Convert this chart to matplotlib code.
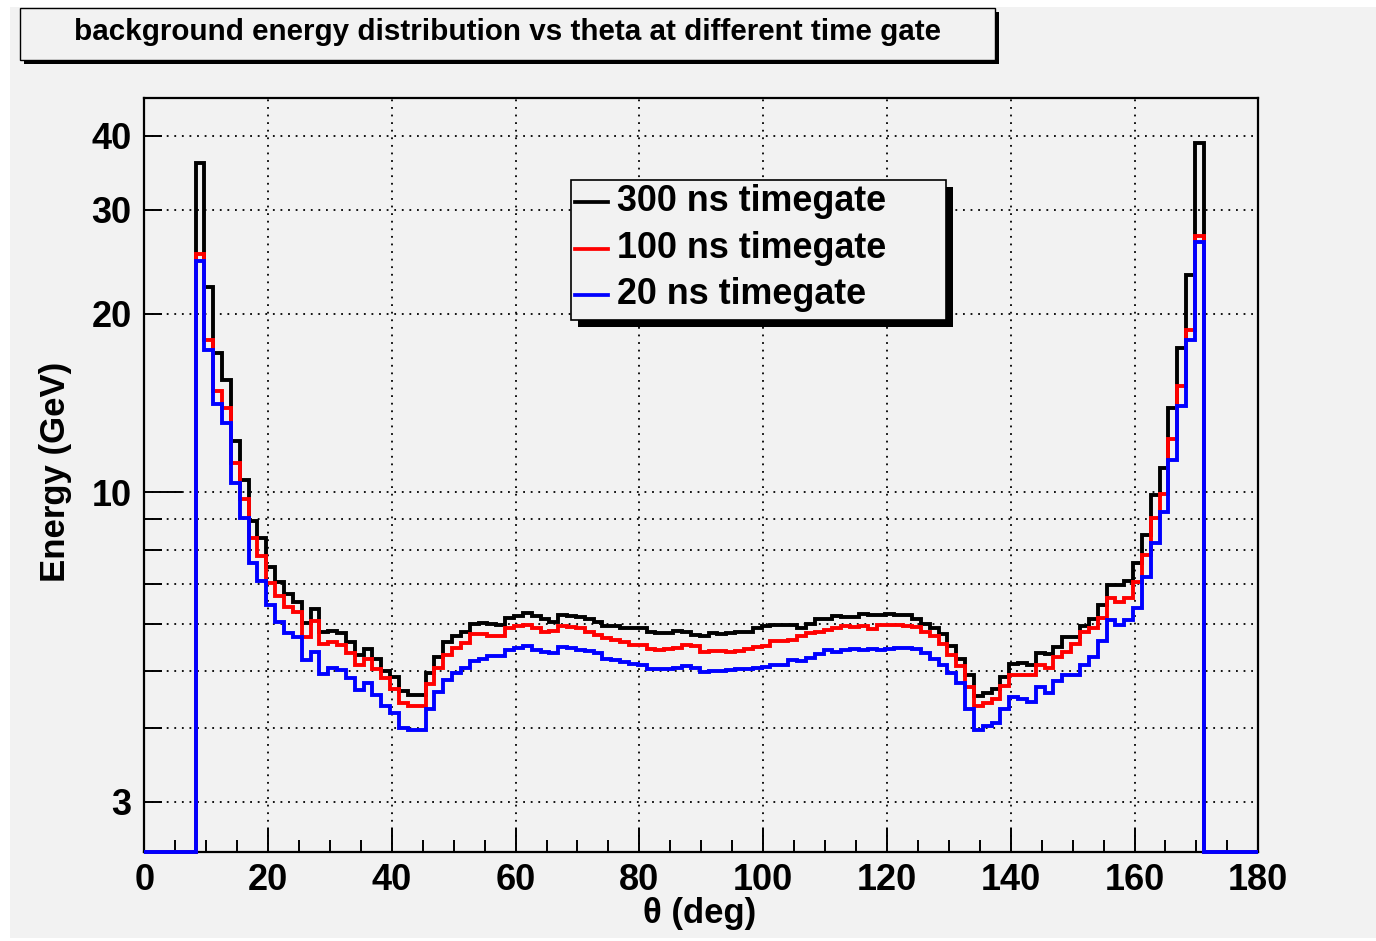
import numpy as np
import matplotlib
matplotlib.use("Agg")
import matplotlib.pyplot as plt
from matplotlib.patches import Rectangle
from matplotlib.lines import Line2D
from matplotlib.ticker import FixedLocator, FuncFormatter

# ---------------- data ----------------
theta_lo, theta_hi = 8.3, 171.2      # edges of the filled theta bins (deg)

e300 = [36.0, 22.2, 17.2, 15.5, 12.2, 10.5, 8.95, 8.36, 7.49, 7.06,
        6.73, 6.54, 6.01, 6.34, 5.80, 5.84, 5.79, 5.58, 5.32, 5.44,
        5.24, 5.00, 4.88, 4.62, 4.54, 4.54, 4.96, 5.28, 5.59, 5.73,
        5.82, 5.99, 6.02, 6.00, 5.97, 6.13, 6.18, 6.25, 6.17, 6.10,
        6.05, 6.20, 6.18, 6.15, 6.10, 6.05, 5.95, 5.94, 5.89, 5.89,
        5.90, 5.82, 5.79, 5.79, 5.84, 5.80, 5.74, 5.71, 5.79, 5.76,
        5.78, 5.80, 5.82, 5.89, 5.95, 5.96, 5.96, 5.97, 5.89, 6.00,
        6.10, 6.10, 6.17, 6.15, 6.15, 6.23, 6.21, 6.21, 6.23, 6.20,
        6.20, 6.10, 6.00, 5.90, 5.76, 5.51, 5.24, 4.91, 4.53, 4.58,
        4.65, 4.88, 5.12, 5.15, 5.10, 5.35, 5.33, 5.49, 5.70, 5.69,
        5.95, 6.10, 6.46, 6.97, 6.97, 7.07, 7.59, 8.47, 9.90, 11.0,
        13.9, 17.5, 23.3, 38.9]

e100 = [25.2, 18.1, 14.8, 13.9, 11.2, 9.75, 8.36, 7.80, 7.04, 6.69,
        6.41, 6.27, 5.70, 6.07, 5.55, 5.58, 5.52, 5.36, 5.10, 5.24,
        5.04, 4.85, 4.65, 4.40, 4.36, 4.36, 4.74, 5.05, 5.32, 5.46,
        5.56, 5.76, 5.76, 5.71, 5.72, 5.89, 5.95, 5.97, 5.90, 5.82,
        5.84, 5.95, 5.93, 5.89, 5.82, 5.74, 5.67, 5.64, 5.58, 5.53,
        5.52, 5.44, 5.41, 5.43, 5.46, 5.53, 5.50, 5.38, 5.40, 5.40,
        5.38, 5.40, 5.44, 5.49, 5.51, 5.60, 5.60, 5.64, 5.71, 5.79,
        5.82, 5.86, 5.90, 5.95, 5.93, 5.95, 5.88, 5.97, 5.96, 5.96,
        5.95, 5.93, 5.82, 5.71, 5.55, 5.32, 5.08, 4.69, 4.35, 4.40,
        4.47, 4.71, 4.91, 4.91, 4.91, 5.10, 5.05, 5.28, 5.38, 5.55,
        5.82, 5.90, 6.13, 6.62, 6.54, 6.62, 7.06, 7.84, 9.04, 9.93,
        12.3, 15.1, 18.8, 27.1]

e20 = [24.6, 17.4, 14.1, 13.1, 10.35, 9.04, 7.59, 7.08, 6.46, 6.03,
       5.79, 5.69, 5.22, 5.38, 4.94, 5.06, 5.02, 4.86, 4.63, 4.76,
       4.54, 4.35, 4.24, 4.00, 3.97, 3.97, 4.31, 4.60, 4.82, 4.96,
       5.06, 5.18, 5.24, 5.29, 5.30, 5.41, 5.45, 5.50, 5.42, 5.38,
       5.36, 5.47, 5.45, 5.42, 5.40, 5.36, 5.23, 5.22, 5.16, 5.13,
       5.10, 5.04, 5.03, 5.03, 5.06, 5.08, 5.05, 4.98, 5.00, 5.00,
       5.02, 5.04, 5.04, 5.05, 5.07, 5.10, 5.10, 5.20, 5.18, 5.26,
       5.34, 5.41, 5.38, 5.41, 5.44, 5.42, 5.44, 5.42, 5.44, 5.45,
       5.45, 5.43, 5.35, 5.24, 5.10, 4.95, 4.76, 4.31, 3.97, 4.03,
       4.08, 4.31, 4.51, 4.47, 4.43, 4.69, 4.58, 4.80, 4.91, 4.91,
       5.10, 5.27, 5.60, 6.08, 5.97, 6.08, 6.38, 7.20, 8.20, 9.25,
       11.35, 14.0, 18.1, 26.5]

series_labels = ["300 ns timegate", "100 ns timegate", "20 ns timegate"]
title_text = "background energy distribution vs theta at different time gate"
xtick_vals = [0, 20, 40, 60, 80, 100, 120, 140, 160, 180]
ytick_labeled = [3, 10, 20, 30, 40]

# ---------------- style ----------------
FONT = ["Liberation Sans", "DejaVu Sans"]
plt.rcParams["font.family"] = FONT
plt.rcParams["font.weight"] = "bold"
BG = "#f2f2f2"
colors = ["black", "red", "blue"]
W, H = 1376, 941

def fx(x):
    return x / W

def fy(y):
    return 1 - y / H

fig = plt.figure(figsize=(W / 100, H / 100), dpi=100)
fig.patch.set_facecolor("white")
fig.add_artist(Rectangle((fx(10), fy(938)), fx(W - 10), fy(7) - fy(938),
                         transform=fig.transFigure, facecolor=BG,
                         edgecolor="none", zorder=0))

ax_l, ax_r, ax_t, ax_b = 144.2, 1258.3, 98, 852
ax = fig.add_axes([fx(ax_l), fy(ax_b), fx(ax_r - ax_l), fy(ax_t) - fy(ax_b)])
ax.set_facecolor(BG)
ax.set_yscale("log")
ybot, ytop = 2.47, 46.3
ax.set_ylim(ybot, ytop)
ax.set_xlim(0, 180)

# histograms
n = len(e300)
edges = np.linspace(theta_lo, theta_hi, n + 1)
full_edges = np.concatenate([[0.0], edges, [180.0]])
for vals, col in zip([e300, e100, e20], colors):
    v = np.concatenate([[ybot], np.asarray(vals, float), [ybot]])
    ax.stairs(v, full_edges, baseline=None, color=col, lw=2.8,
              joinstyle="miter", clip_on=False, zorder=4)

# ticks
ax.xaxis.set_major_locator(FixedLocator(xtick_vals))
ax.xaxis.set_minor_locator(FixedLocator([v for v in range(0, 181, 5) if v % 20]))
ax.yaxis.set_major_locator(FixedLocator([10]))
ax.yaxis.set_minor_locator(FixedLocator([3, 4, 5, 6, 7, 8, 9, 20, 30, 40]))
ax.yaxis.set_major_formatter(FuncFormatter(lambda v, p: "%g" % v))
ax.yaxis.set_minor_formatter(FuncFormatter(
    lambda v, p: ("%g" % v) if round(v) in ytick_labeled else ""))
ax.xaxis.set_major_formatter(FuncFormatter(lambda v, p: "%g" % v))
ax.tick_params(axis="both", which="both", direction="in", color="black",
               width=1.4, labelsize=26)
ax.tick_params(axis="y", which="major", length=27, pad=9)
ax.tick_params(axis="y", which="minor", length=13, pad=9)
ax.tick_params(axis="x", which="major", length=17, pad=8)
ax.tick_params(axis="x", which="minor", length=8.5)
for lab in ax.get_xticklabels() + ax.get_yticklabels(which="both"):
    lab.set_fontweight("bold")

# grid
ax.set_axisbelow(True)
ax.grid(True, axis="x", which="major", color="black", lw=1.3, ls=(0, (1, 3.2)))
ax.grid(True, axis="y", which="both", color="black", lw=1.3, ls=(0, (1, 3.2)))
for s in ax.spines.values():
    s.set_linewidth(1.6)
    s.set_zorder(3)

# axis labels
fig.text(fx(700), fy(913), "\u03b8 (deg)", ha="center", va="center",
         fontsize=25, fontweight="bold")
fig.text(fx(55), fy(472), "Energy (GeV)", ha="center", va="center",
         rotation=90, fontsize=25, fontweight="bold")

# title box
sh = 4
fig.add_artist(Rectangle((fx(20 + sh), fy(60 + sh)), fx(975), fy(8) - fy(60),
                         transform=fig.transFigure, facecolor="black",
                         edgecolor="none", zorder=5))
fig.add_artist(Rectangle((fx(20), fy(60)), fx(975), fy(8) - fy(60),
                         transform=fig.transFigure, facecolor=BG,
                         edgecolor="black", lw=1.0, zorder=6))
fig.text(fx(507), fy(32), title_text, ha="center", va="center",
         fontsize=21.3, fontweight="bold", zorder=7)

# legend box
lx0, ly0, lx1, ly1 = 571, 180, 946, 320
sh = 7
fig.add_artist(Rectangle((fx(lx0 + sh), fy(ly1 + sh)), fx(lx1 - lx0),
                         fy(ly0) - fy(ly1), transform=fig.transFigure,
                         facecolor="black", edgecolor="none", zorder=8))
fig.add_artist(Rectangle((fx(lx0), fy(ly1)), fx(lx1 - lx0), fy(ly0) - fy(ly1),
                         transform=fig.transFigure, facecolor=BG,
                         edgecolor="black", lw=1.2, zorder=9))
for lab, col, yy in zip(series_labels, colors, [201.7, 249, 295]):
    fig.add_artist(Line2D([fx(575), fx(608)], [fy(yy), fy(yy)],
                          transform=fig.transFigure, color=col, lw=2.7,
                          zorder=10))
    fig.text(fx(617), fy(yy), lab, ha="left", va="center", fontsize=25.8,
             fontweight="bold", zorder=10)

fig.savefig("out.png", dpi=100, facecolor=fig.get_facecolor())
